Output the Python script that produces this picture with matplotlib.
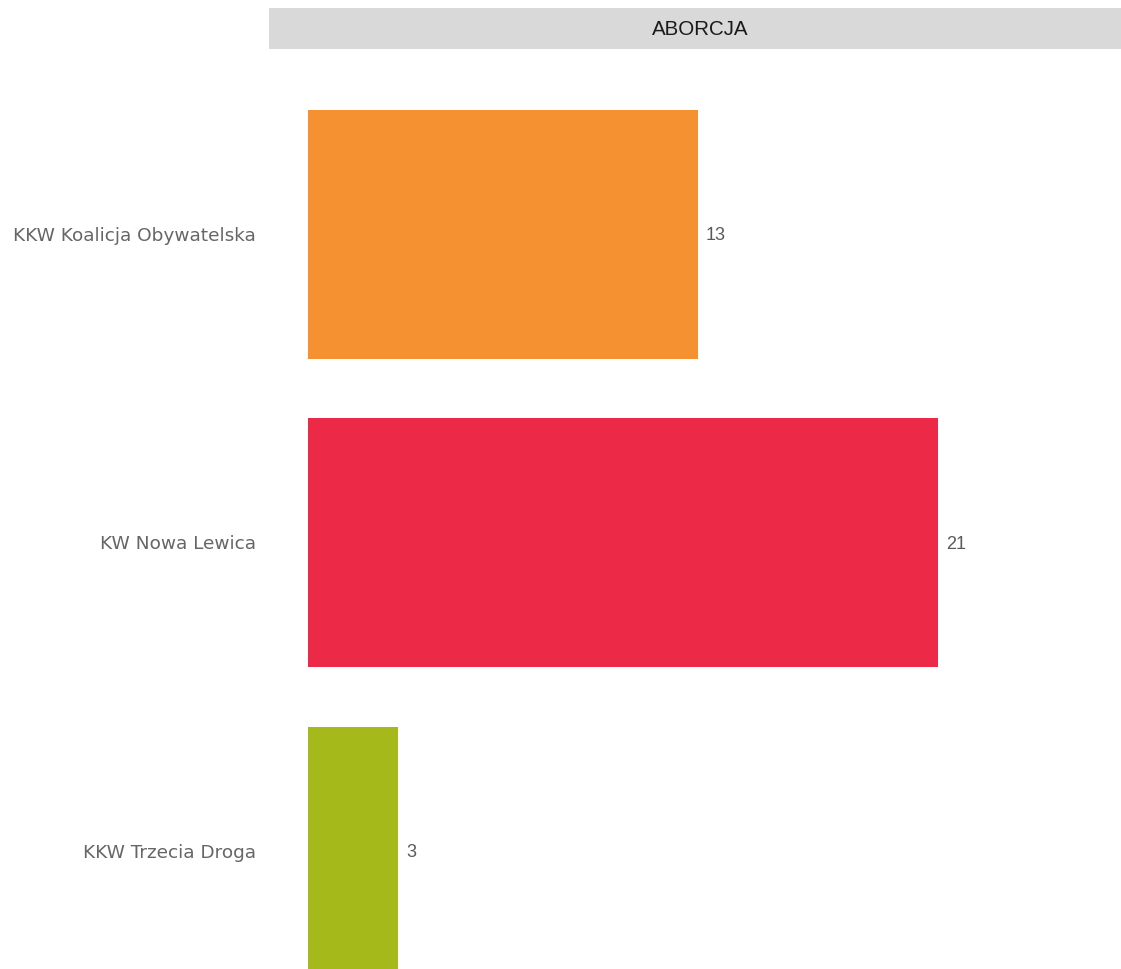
import matplotlib
matplotlib.use("Agg")
import matplotlib.pyplot as plt

panel = "ABORCJA"
parties = ["KKW Koalicja Obywatelska", "KW Nowa Lewica", "KKW Trzecia Droga"]
counts = [13, 21, 3]
colors = ["#F59130", "#EC2A48", "#A5BA1A"]

W, H = 1121, 969
fig = plt.figure(figsize=(W / 100, H / 100), dpi=100)

# panel area (pixel-based layout)
left, right = 269 / W, 1121 / W
strip_top, strip_bot = 1 - 8 / H, 1 - 49 / H
ax = fig.add_axes([left, 0, right - left, strip_bot])

ypos = list(range(len(parties)))
ax.barh(ypos, counts, height=0.807, color=colors)
for y, v in zip(ypos, counts):
    ax.annotate(str(v), xy=(v, y), xytext=(8, -1.5), textcoords="offset pixels",
                va="center", ha="left", fontsize=13,
                color="#5a5a5a", family="Liberation Sans")

ax.set_xlim(-1.3, 27.1)
ax.set_ylim(2.381, -0.601)
ax.set_yticks(ypos)
ax.set_yticklabels([])
ax.tick_params(axis="y", length=0)
ax.set_xticks([])
for s in ax.spines.values():
    s.set_visible(False)

# category labels, right-aligned left of the panel
for y, name in zip(ypos, parties):
    ax.annotate(name, xy=(0, y), xycoords=("axes fraction", "data"),
                xytext=(-13, -1.5), textcoords="offset pixels",
                ha="right", va="center", fontsize=13.3,
                color="#666666", family="DejaVu Sans")

# facet strip
sax = fig.add_axes([left, strip_bot, right - left, strip_top - strip_bot])
sax.set_facecolor("#D9D9D9")
sax.set_xticks([])
sax.set_yticks([])
for s in sax.spines.values():
    s.set_visible(False)
sax.annotate(panel, xy=(0.5, 0.47), xycoords="axes fraction",
             xytext=(5, 0), textcoords="offset pixels",
             ha="center", va="center", fontsize=14.8,
             color="#1a1a1a", family="Liberation Sans")

fig.savefig("out.png", dpi=100)
